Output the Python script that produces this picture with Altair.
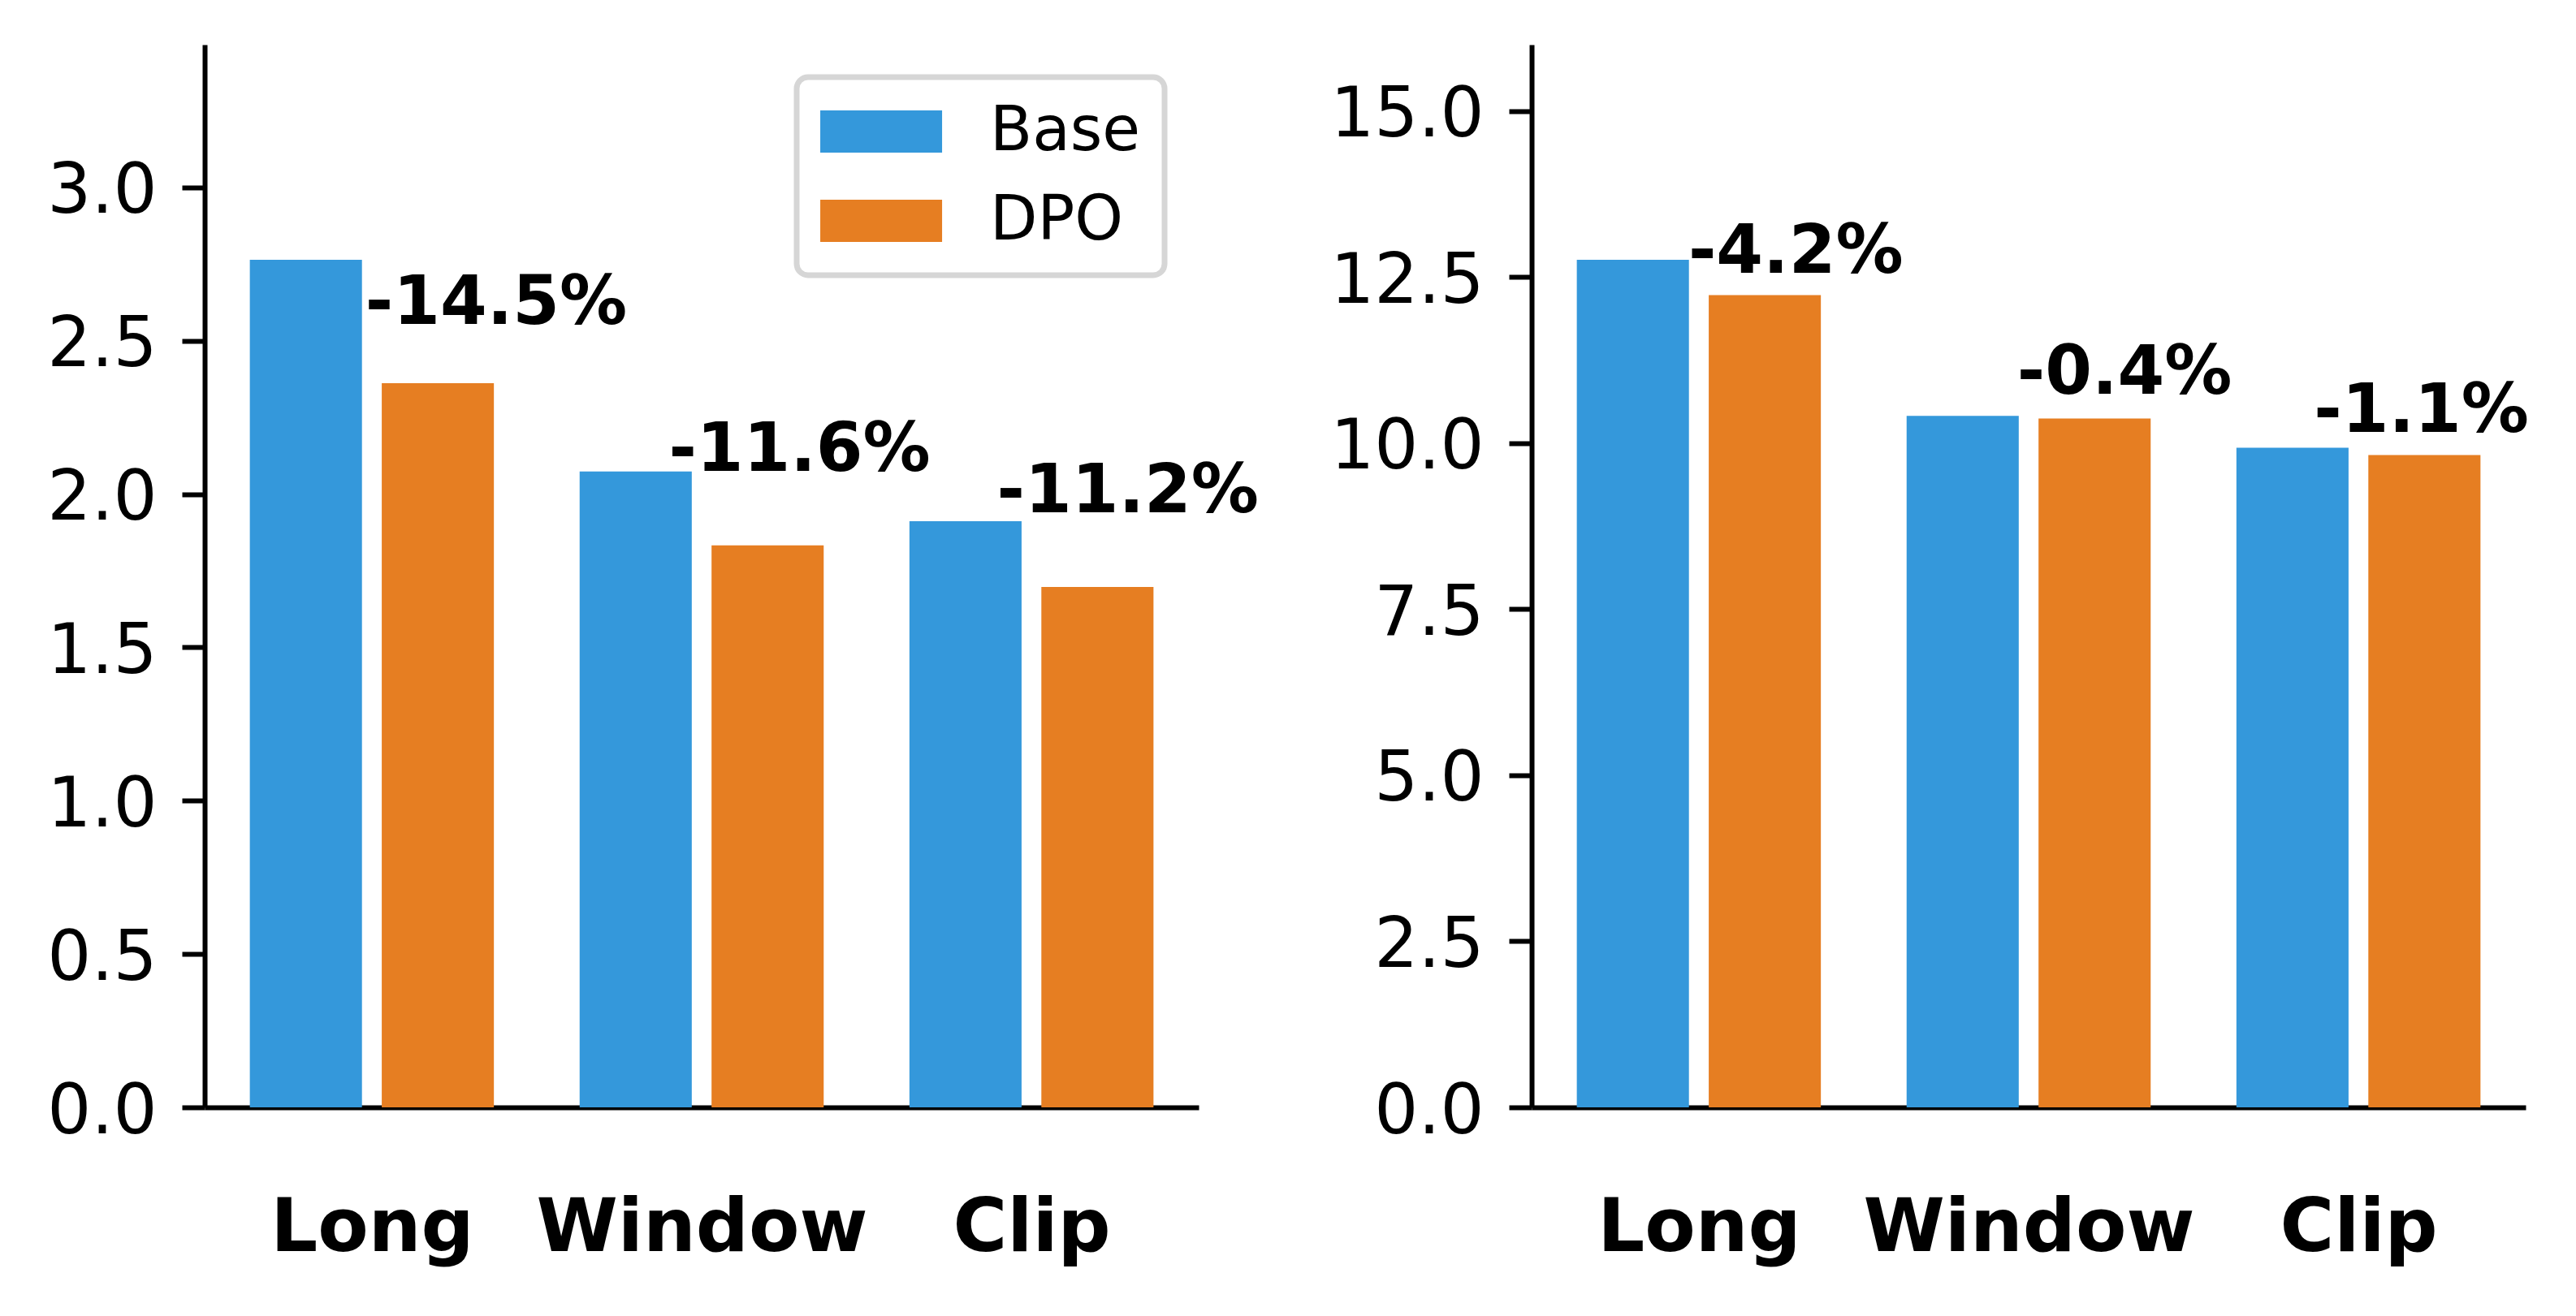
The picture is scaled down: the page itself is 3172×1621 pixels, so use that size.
import altair as alt
import pandas as pd

# ---------------- data ----------------
categories = ["Long", "Window", "Clip"]
methods = ["Base", "DPO"]
colors = ["#3498db", "#e67e22"]
group_pos = [0, 1, 2]
method_offset = [-0.2, 0.2]
bar_width = 0.34

left_base = [2.764, 2.074, 1.912]
left_dpo = [2.362, 1.833, 1.697]
right_base = [12.76, 10.41, 9.93]
right_dpo = [12.23, 10.37, 9.82]

left_labels = ["-14.5%", "-11.6%", "-11.2%"]
left_label_x = [-0.02, 0.90, 1.895]
left_label_y = [2.556, 2.077, 1.942]
right_labels = ["-4.2%", "-0.4%", "-1.1%"]
right_label_x = [-0.032, 0.965, 1.865]
right_label_y = [12.56, 10.75, 10.17]

left_ymax = 3.466
right_ymax = 16.0
left_yticks = [0.0, 0.5, 1.0, 1.5, 2.0, 2.5, 3.0]
right_yticks = [0.0, 2.5, 5.0, 7.5, 10.0, 12.5, 15.0]
x_domain = [-0.507, 2.507]

FONT = "DejaVu Sans"
W, H = 1224, 1309


def bar_frame(base_vals, dpo_vals):
    rows = []
    for pos, cat, b, d in zip(group_pos, categories, base_vals, dpo_vals):
        for m, off, v in zip(methods, method_offset, [b, d]):
            rows.append({
                "category": cat,
                "method": m,
                "value": v,
                "x0": pos + off - bar_width / 2,
                "x1": pos + off + bar_width / 2,
            })
    return pd.DataFrame(rows)


def label_frame(labels, lx, ly):
    return pd.DataFrame({"label": labels, "lx": lx, "ly": ly})


def panel(base_vals, dpo_vals, labels, lx, ly, ymax, yticks, show_legend):
    xscale = alt.Scale(domain=x_domain, nice=False, zero=False)
    yscale = alt.Scale(domain=[0, ymax], nice=False, zero=True)
    xaxis = alt.Axis(
        values=group_pos,
        labelExpr=f"{categories}[datum.value]",
        ticks=False, tickSize=0, grid=False, title=None,
        labelFont=FONT, labelFontWeight="bold", labelFontSize=91,
        labelColor="black", labelPadding=104, labelFlush=False,
        labelOverlap=False, labelBound=False, labelLimit=0,
        domainColor="black", domainWidth=6,
    )
    yaxis = alt.Axis(
        values=yticks, format=".1f", grid=False, title=None,
        tickSize=28, tickWidth=6, tickColor="black",
        domainColor="black", domainWidth=6,
        labelFont=FONT, labelFontSize=85, labelColor="black",
        labelPadding=31, labelOffset=5, labelLimit=0,
    )
    color_scale = alt.Scale(domain=methods, range=colors)
    if show_legend:
        color_enc = alt.Color(
            "method:N", scale=color_scale,
            legend=alt.Legend(
                title=None, orient="none", legendX=729, legendY=40,
                symbolType="M-1.46,-1H4.31V1H-1.46Z", symbolSize=2704,
                symbolStrokeWidth=0, symbolOpacity=1,
                labelFont=FONT, labelFontSize=76, labelColor="black",
                labelOffset=133, labelLimit=0, rowPadding=34, padding=29,
                strokeColor="#d6d6d6", cornerRadius=14,
                fillColor="white",
            ),
        )
    else:
        color_enc = alt.Color("method:N", scale=color_scale, legend=None)
    bars = alt.Chart(bar_frame(base_vals, dpo_vals)).mark_bar(strokeWidth=0).encode(
        x=alt.X("x0:Q", scale=xscale, axis=xaxis),
        x2="x1:Q",
        y=alt.Y("value:Q", scale=yscale, axis=yaxis),
        y2=alt.datum(0),
        color=color_enc,
    )
    texts = alt.Chart(label_frame(labels, lx, ly)).mark_text(
        align="left", baseline="alphabetic", font=FONT, fontWeight="bold",
        fontSize=83, color="black",
    ).encode(
        x=alt.X("lx:Q", scale=xscale),
        y=alt.Y("ly:Q", scale=yscale),
        text="label:N",
    )
    return alt.layer(bars, texts).properties(width=W, height=H)


left = panel(left_base, left_dpo, left_labels, left_label_x, left_label_y,
             left_ymax, left_yticks, True)
right = panel(right_base, right_dpo, right_labels, right_label_x, right_label_y,
              right_ymax, right_yticks, False)

chart = alt.hconcat(left, right, spacing=410, bounds="flush").resolve_scale(
    x="independent", y="independent", color="independent"
).resolve_legend(color="independent").properties(
    padding={"left": 49, "top": 46, "right": 5, "bottom": 5},
    background="white",
).configure_view(stroke="transparent").configure_legend(strokeWidth=7)

chart.save("out.html", embed_options={"renderer": "svg", "actions": False})
